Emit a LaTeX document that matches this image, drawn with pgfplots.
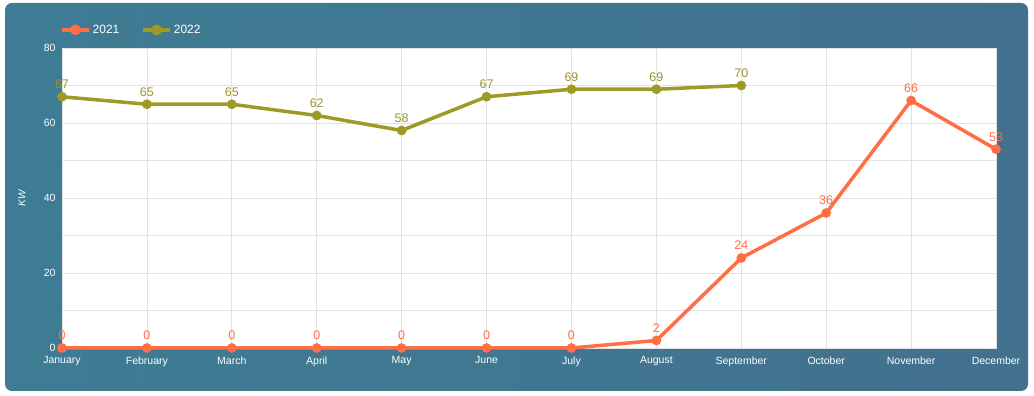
\documentclass[border=0pt]{standalone}
\usepackage{pgfplots}
\pgfplotsset{compat=1.18}
\usepackage{fontspec}
\setmainfont{Liberation Sans}
\definecolor{bgA}{HTML}{3E7C94}
\definecolor{bgB}{HTML}{42718E}
\definecolor{cA}{HTML}{FF6E45}
\definecolor{cB}{HTML}{9D9B25}
\definecolor{cBt}{HTML}{9E9330}
\definecolor{gridc}{HTML}{E2E2E2}
\begin{document}
\begin{tikzpicture}[x=1pt,y=1pt]
\path (0,0) rectangle (1034,396);
\shade[left color=bgA, right color=bgB, rounded corners=7pt] (5,5) rectangle (1028,393);
\begin{axis}[
  at={(62pt,48pt)}, anchor=south west,
  scale only axis, width=934pt, height=300pt,
  xmin=0, xmax=11, ymin=0, ymax=80,
  xtick={0,...,11},
  xticklabels={January,February,March,April,May,June,July,August,September,October,November,December},
  ytick={0,20,40,60,80},
  minor ytick={10,30,50,70},
  grid=both,
  grid style={gridc, line width=0.8pt},
  minor grid style={gridc, line width=0.8pt},
  axis background/.style={fill=white},
  axis line style={draw=gridc},
  tick style={draw=none},
  ticklabel style={text=white, font=\fontsize{10.5}{12}\selectfont},
  /pgf/number format/assume math mode=true,
  xticklabel style={yshift=-5pt},
  yticklabel style={xshift=-3pt},
  every axis y label/.style={at={(rel axis cs:0,0.5)}, xshift=-40pt, rotate=90, anchor=center, text=white, font=\fontsize{10}{12}\selectfont\itshape},
  ylabel={KW},
  clip=false,
  legend columns=2,
  legend style={at={(rel axis cs:0,1)}, anchor=south west, yshift=9pt, xshift=-5pt, draw=none, fill=none, text=white, font=\fontsize{12}{14}\selectfont, /tikz/every even column/.append style={column sep=20pt}},
  legend image code/.code={\draw[#1, line width=3.5pt] (0pt,0pt) -- (27pt,0pt); \fill[#1] (13.5pt,0pt) circle (3.5pt);},
  nodes near coords,
  nodes near coords style={font=\fontsize{12.5}{14}\selectfont, anchor=south, yshift=3pt},
]
\addplot[cA, line width=3.5pt, mark=*, mark size=3pt, every node near coord/.append style={text=cA}] coordinates {
(0,0) (1,0) (2,0) (3,0) (4,0) (5,0) (6,0) (7,2) (8,24) (9,36) (10,66) (11,53)};
\addlegendentry{2021}
\addplot[cB, line width=3.5pt, mark=*, mark size=3pt, every node near coord/.append style={text=cBt}] coordinates {
(0,67) (1,65) (2,65) (3,62) (4,58) (5,67) (6,69) (7,69) (8,70)};
\addlegendentry{2022}
\end{axis}
\end{tikzpicture}
\end{document}
